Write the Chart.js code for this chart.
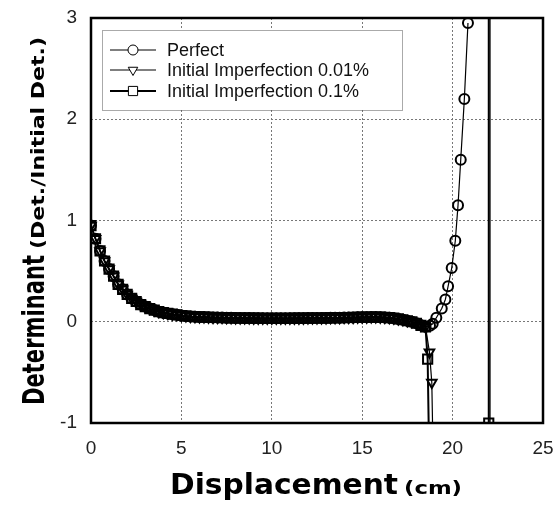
<!DOCTYPE html>
<html>
<head>
<meta charset="utf-8">
<script src="https://cdn.jsdelivr.net/npm/chart.js@4/dist/chart.umd.min.js"></script>
<style>
    html, body { margin: 0; padding: 0; background: #fff; }
    canvas { display: block; }
</style>
</head>
<body>
<canvas id="detChart" width="559" height="507"></canvas>
<script>
// shared part of all three curves (cm, det ratio)
const xBase = [0, 0.25, 0.5, 0.75, 1, 1.25, 1.5, 1.75, 2, 2.25,
    2.5, 2.75, 3, 3.25, 3.5, 3.75, 4, 4.25, 4.5, 4.75,
    5, 5.25, 5.5, 5.75, 6, 6.25, 6.5, 6.75, 7, 7.25,
    7.5, 7.75, 8, 8.25, 8.5, 8.75, 9, 9.25, 9.5, 9.75,
    10, 10.25, 10.5, 10.75, 11, 11.25, 11.5, 11.75, 12, 12.25,
    12.5, 12.75, 13, 13.25, 13.5, 13.75, 14, 14.25, 14.5, 14.75,
    15, 15.25, 15.5, 15.75, 16, 16.25, 16.5, 16.75, 17, 17.25,
    17.5, 17.75, 18, 18.25, 18.5];
const yBase = [0.95, 0.82, 0.70, 0.60, 0.52, 0.45, 0.37, 0.32, 0.27, 0.23,
    0.20, 0.17, 0.15, 0.13, 0.115, 0.10, 0.09, 0.082, 0.075, 0.068,
    0.062, 0.057, 0.053, 0.05, 0.048, 0.046, 0.044, 0.043, 0.042, 0.041,
    0.04, 0.039, 0.038, 0.037, 0.036, 0.036, 0.035, 0.035, 0.034, 0.034,
    0.034, 0.034, 0.034, 0.034, 0.034, 0.035, 0.035, 0.035, 0.036, 0.036,
    0.037, 0.037, 0.038, 0.039, 0.04, 0.04, 0.041, 0.042, 0.043, 0.044,
    0.045, 0.045, 0.046, 0.046, 0.045, 0.043, 0.04, 0.035, 0.028, 0.02,
    0.01, 0.0, -0.015, -0.035, -0.05];

// where the curves split
const perfectTailX = [18.75, 18.9, 19.1, 19.4, 19.6, 19.75, 19.95, 20.15, 20.3, 20.45, 20.65, 20.85];
const perfectTailY = [-0.04, -0.02, 0.04, 0.13, 0.22, 0.35, 0.53, 0.8, 1.15, 1.6, 2.2, 2.95];
const imp001TailX = [18.72, 18.85, 18.95, 22.07, 22.07];
const imp001TailY = [-0.3, -0.6, -1.6, -1.3, 40];
const imp01TailX = [18.62, 18.72, 22.0, 22.0];
const imp01TailY = [-0.37, -1.5, -1.0, 40];

const seriesNames = ['Perfect', 'Initial Imperfection 0.01%', 'Initial Imperfection 0.1%'];
const xTicks = [0, 5, 10, 15, 20, 25];
const yTicks = [-1, 0, 1, 2, 3];

function toPoints(xs, ys) {
    return xs.map(function (x, i) {
        return { x: x, y: ys[i] };
    });
}

const tickFont = { family: "'Liberation Sans', Arial, sans-serif", size: 19 };

function drawFitted(ctx, text, x, y, font, targetWidth) {
    ctx.font = font;
    const w = ctx.measureText(text).width;
    ctx.save();
    ctx.translate(x, y);
    ctx.scale(targetWidth / w, 1);
    ctx.fillText(text, 0, 0);
    ctx.restore();
}

const decorPlugin = {
    id: 'decor',
    afterDraw: function (chart) {
        const ctx = chart.ctx;
        const area = chart.chartArea;

        // legend
        ctx.save();
        ctx.fillStyle = '#fff';
        ctx.fillRect(102, 30, 300, 80);
        ctx.strokeStyle = '#555';
        ctx.lineWidth = 1;
        ctx.setLineDash([1, 1]);
        ctx.strokeRect(102.5, 30.5, 300, 80);
        ctx.setLineDash([]);
        const rows = [50, 70, 91];
        chart.data.datasets.forEach(function (ds, i) {
            const y = rows[i];
            ctx.strokeStyle = '#000';
            ctx.lineWidth = ds.borderWidth;
            ctx.beginPath();
            ctx.moveTo(110, y);
            ctx.lineTo(156, y);
            ctx.stroke();
            ctx.fillStyle = '#fff';
            ctx.lineWidth = 1;
            Chart.helpers.drawPoint(ctx, {
                pointStyle: ds.pointStyle,
                rotation: ds.pointRotation || 0,
                radius: ds.pointRadius,
                borderWidth: 1
            }, 133, y);
            ctx.fillStyle = '#111';
            ctx.font = "18px 'Liberation Sans', Arial, sans-serif";
            ctx.textBaseline = 'middle';
            ctx.fillText(ds.label, 167, y + 1);
        });
        ctx.restore();

        // frame
        ctx.save();
        ctx.strokeStyle = '#000';
        ctx.lineWidth = 2.5;
        ctx.strokeRect(area.left, area.top, area.right - area.left, area.bottom - area.top);
        ctx.restore();

        // axis titles
        ctx.save();
        ctx.fillStyle = '#000';
        ctx.textBaseline = 'alphabetic';
        drawFitted(ctx, 'Displacement', 170, 494, "bold 28px 'DejaVu Sans', sans-serif", 228);
        drawFitted(ctx, '(cm)', 404, 494, "bold 17px 'DejaVu Sans', sans-serif", 58);
        ctx.translate(44, 405);
        ctx.rotate(-Math.PI / 2);
        drawFitted(ctx, 'Determinant', 0, 0, "bold 30px 'DejaVu Sans', sans-serif", 150);
        drawFitted(ctx, '(Det./Initial Det.)', 156, 0, "bold 18px 'DejaVu Sans', sans-serif", 212);
        ctx.restore();
    }
};

const lineStyle = {
    showLine: true,
    borderColor: '#000',
    pointBorderColor: '#000',
    pointBackgroundColor: 'rgba(255,255,255,0)',
    pointBorderWidth: 2,
    tension: 0
};

new Chart(document.getElementById('detChart'), {
    type: 'scatter',
    data: {
        datasets: [
            Object.assign({}, lineStyle, {
                label: seriesNames[0],
                data: toPoints(xBase.concat(perfectTailX), yBase.concat(perfectTailY)),
                borderWidth: 1.2,
                pointStyle: 'circle',
                pointRadius: 5
            }),
            Object.assign({}, lineStyle, {
                label: seriesNames[1],
                data: toPoints(xBase.concat(imp001TailX), yBase.concat(imp001TailY)),
                borderWidth: 1.2,
                pointStyle: 'triangle',
                pointRotation: 180,
                pointRadius: 5.5
            }),
            Object.assign({}, lineStyle, {
                label: seriesNames[2],
                data: toPoints(xBase.concat(imp01TailX), yBase.concat(imp01TailY)),
                borderWidth: 2,
                pointStyle: 'rect',
                pointRadius: 6.5
            })
        ]
    },
    options: {
        responsive: false,
        animation: false,
        layout: { padding: { top: 18, right: 16, left: 0, bottom: 0 } },
        plugins: {
            legend: { display: false },
            tooltip: { enabled: false }
        },
        scales: {
            x: {
                type: 'linear',
                min: 0,
                max: 25,
                afterBuildTicks: function (scale) {
                    scale.ticks = xTicks.map(function (v) { return { value: v }; });
                },
                afterFit: function (scale) {
                    scale.height = 84;
                    scale.paddingLeft = 0;
                    scale.paddingRight = 0;
                },
                ticks: { font: tickFont, color: '#222', padding: 14, maxRotation: 0 },
                grid: { color: '#777', lineWidth: 1, drawTicks: false },
                border: { display: false, dash: [2, 2] }
            },
            y: {
                type: 'linear',
                min: -1,
                max: 3,
                afterBuildTicks: function (scale) {
                    scale.ticks = yTicks.map(function (v) { return { value: v }; });
                },
                afterFit: function (scale) {
                    scale.width = 91;
                    scale.paddingTop = 0;
                    scale.paddingBottom = 0;
                },
                ticks: { font: tickFont, color: '#222', padding: 14 },
                grid: { color: '#777', lineWidth: 1, drawTicks: false },
                border: { display: false, dash: [2, 2] }
            }
        }
    },
    plugins: [decorPlugin]
});
</script>
</body>
</html>
